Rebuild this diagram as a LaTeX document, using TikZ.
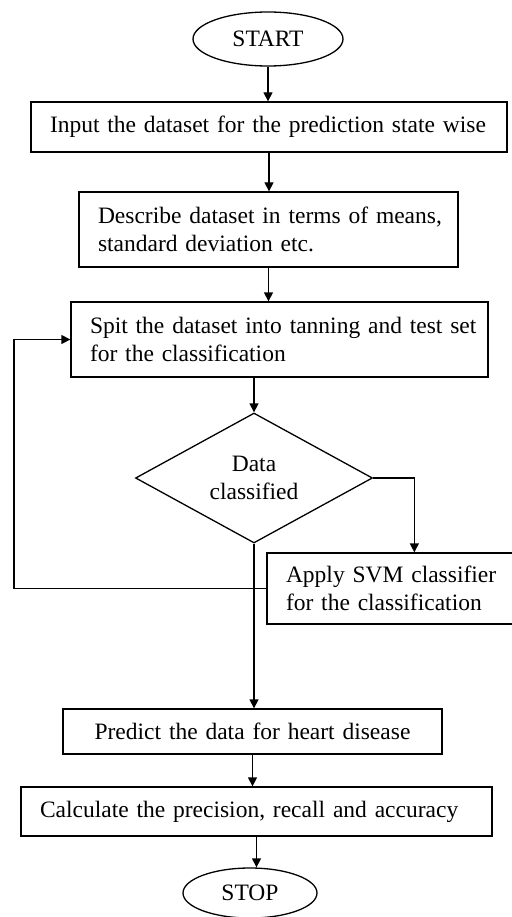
\documentclass[tikz,border=0pt]{standalone}
\usepackage{fontspec}
\setmainfont{Liberation Serif}
\usetikzlibrary{shapes.geometric,arrows.meta,calc}
\begin{document}
\begin{tikzpicture}[x=1pt,y=-1pt,
  every node/.style={font=\fontsize{23.5}{28}\selectfont},
  ln/.style={line width=1.3pt,draw=black},
  arr/.style={ln,-{Triangle[length=9pt,width=9pt]}},
  term/.style={ellipse,ln,inner sep=0pt},
  procbox/.style={rectangle,ln,inner xsep=19pt,inner ysep=0pt,align=left},
  decide/.style={diamond,ln,inner sep=0pt,align=center,shape aspect=1.8}
]
\useasboundingbox (0,0) rectangle (511,917);

\node[term,minimum width=150pt,minimum height=54pt] (start) at (268,39) {START};
\node[procbox,minimum width=476pt,minimum height=50pt,text width=438pt] (b1) at (269,127)
  {\mbox{Input the dataset for the prediction state wise}};
\node[procbox,minimum width=379pt,minimum height=75pt,text width=341pt] (b2) at (268.5,229.5)
  {\mbox{Describe dataset in terms of means,}\\\mbox{standard deviation etc.}};
\node[procbox,minimum width=417pt,minimum height=75pt,text width=379pt] (b3) at (279.5,339.5)
  {\mbox{Spit the dataset into tanning and test set}\\\mbox{for the classification}};
\node[decide,minimum width=237pt,minimum height=130pt] (d) at (254,478)
  {Data\\classified};
\node[procbox,minimum width=248pt,minimum height=71pt,text width=210pt] (b4) at (391,588.5)
  {\mbox{Apply SVM classifier}\\\mbox{for the classification}};
\node[procbox,minimum width=379pt,minimum height=45pt,text width=341pt,align=center] (b5) at (252.5,731.5)
  {\mbox{Predict the data for heart disease}};
\node[procbox,minimum width=471pt,minimum height=49pt,text width=433pt] (b6) at (256.5,811.5)
  {\mbox{Calculate the precision, recall and accuracy}};
\node[term,minimum width=134pt,minimum height=50pt] (stop) at (250,893) {STOP};

\draw[arr] (start.south) -- (start.south |- b1.north);
\draw[arr] (b1.south) -- (b1.south |- b2.north);
\draw[arr] (b2.south) -- (b2.south |- b3.north);
\draw[arr] (d.north |- b3.south) -- (d.north);
\draw[arr] (d.east) -| ($(b4.north west)+(148,0)$);
\draw[arr] (b4.west) -- (b4.west -| 14,0) |- (b3.west);
\draw[arr] (d.south) -- (d.south |- b5.north);
\draw[arr] (b5.south) -- (b5.south |- b6.north);
\draw[arr] (b6.south) -- (b6.south |- stop.north);
\end{tikzpicture}
\end{document}
